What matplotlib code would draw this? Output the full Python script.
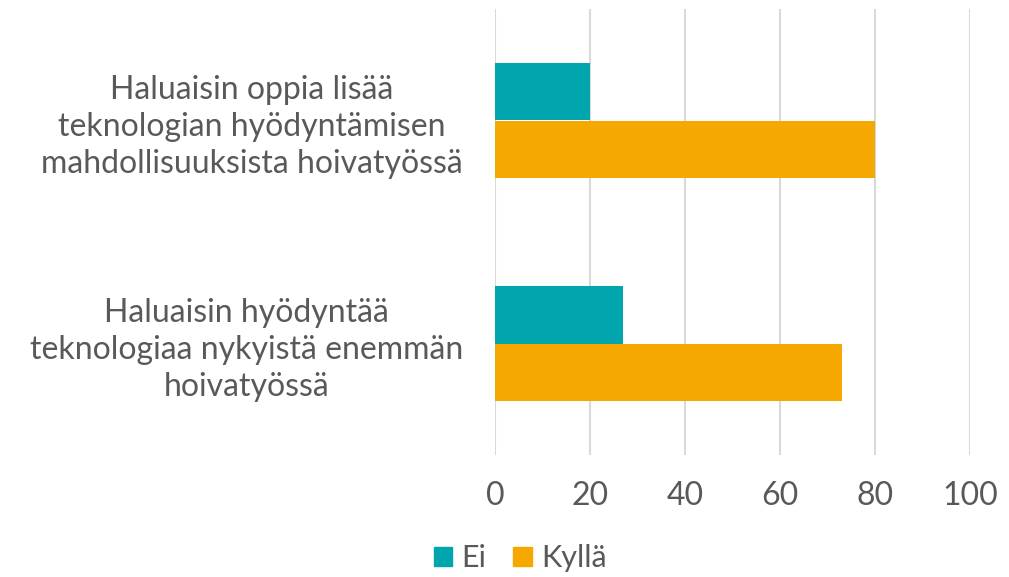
import matplotlib.pyplot as plt
import numpy as np
from matplotlib.patches import Patch

categories = [
    "Haluaisin oppia lisää\nteknologian hyödyntämisen\nmahdollisuuksista hoivatyössä",
    "Haluaisin hyödyntää\nteknologiaa nykyistä enemmän\nhoivatyössä",
]
ei = [20, 27]
kylla = [80, 73]
xticks = [0, 20, 40, 60, 80, 100]

teal = "#00A5AD"
orange = "#F5A800"
grey = "#595959"

plt.rcParams['font.family'] = ['Lato', 'DejaVu Sans']

fig = plt.figure(figsize=(10.09, 5.77), dpi=100)
ax = fig.add_axes([495 / 1009, 1 - 455 / 577, 475 / 1009, 446 / 577])

y = np.arange(len(categories))
h = 0.26
ax.barh(y - h / 2, ei, height=h, color=teal, zorder=2)
ax.barh(y + h / 2, kylla, height=h, color=orange, zorder=2)

ax.set_xlim(0, 100)
ax.set_ylim(1.5, -0.5)
ax.set_xticks(xticks)
ax.set_xticklabels([str(t) for t in xticks], fontsize=23, color=grey)
ax.set_yticks(y)
ax.set_yticklabels(categories, fontsize=23, color=grey, multialignment='center', linespacing=1.3)
ax.tick_params(axis='both', length=0)
ax.tick_params(axis='x', pad=19)
ax.tick_params(axis='y', pad=23)
ax.grid(axis='x', color='#d9d9d9', linewidth=1.5, zorder=0)
for s in ax.spines.values():
    s.set_visible(False)

handles = [Patch(color=teal, label='Ei'), Patch(color=orange, label='Kyllä')]
fig.legend(handles=handles, loc='center', bbox_to_anchor=(520 / 1009, 1 - 558 / 577),
           ncol=2, frameon=False, fontsize=22, labelcolor=grey,
           handlelength=0.6, handleheight=0.6, handletextpad=0.3, columnspacing=0.9)

fig.savefig('out.png', dpi=100)
